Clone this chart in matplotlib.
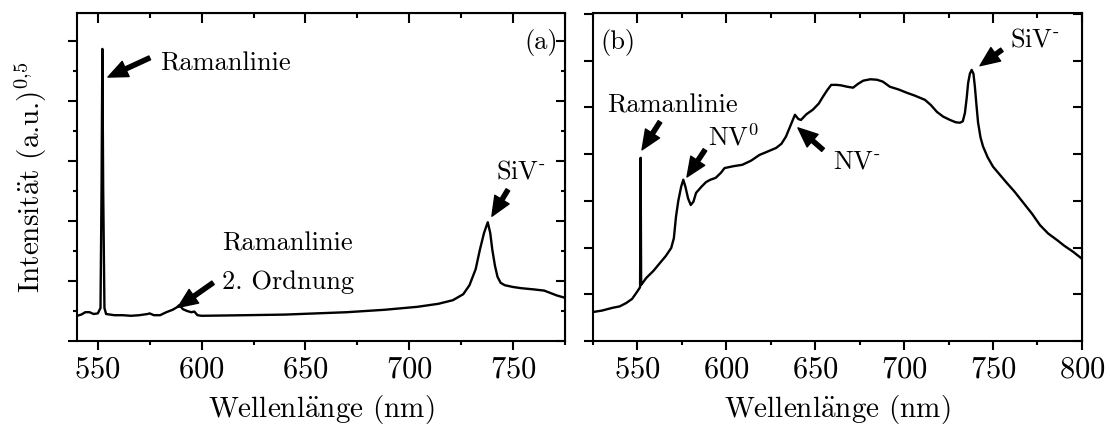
import matplotlib
matplotlib.use('Agg')
import matplotlib.pyplot as plt
from matplotlib.ticker import MultipleLocator

plt.rcParams['font.family'] = ['cmr10', 'DejaVu Serif']
plt.rcParams['mathtext.fontset'] = 'cm'
plt.rcParams['axes.formatter.use_mathtext'] = True

# (a) spectrum
wl_a = [540, 542, 544, 546, 548, 550, 551.3, 551.8, 552.2, 552.6, 553.2, 554,
        558, 562, 566, 570, 574, 575, 577, 580, 583, 586, 588, 589.3, 591,
        593, 595, 596.5, 598, 600, 621, 640, 655, 670, 688, 704, 714, 721,
        726, 729, 732, 734, 736, 737.8, 739, 740, 741.3, 742.5, 744, 746,
        750, 754, 760, 765, 768, 771, 775]
int_a = [0.42, 0.44, 0.48, 0.48, 0.45, 0.46, 0.55, 2.5, 4.87, 2.5, 0.55, 0.45,
         0.43, 0.43, 0.42, 0.43, 0.45, 0.46, 0.43, 0.43, 0.48, 0.52, 0.56, 0.6, 0.53,
         0.5, 0.48, 0.49, 0.43, 0.42, 0.43, 0.44, 0.46, 0.48, 0.52, 0.57, 0.62, 0.68,
         0.78, 0.93, 1.2, 1.52, 1.8, 1.98, 1.8, 1.52, 1.25, 1.07, 0.97, 0.93,
         0.9, 0.88, 0.86, 0.84, 0.8, 0.76, 0.72]

# (b) spectrum
wl_b = [525, 530, 536, 540, 543.6, 547, 549.4, 551.5, 551.8, 552.1, 552.5, 555,
        559, 562.7, 566, 569, 570.5, 571.7, 573, 574.6, 575.8, 577, 578.5, 580,
        581.5, 583, 586, 588.6, 591, 594, 597, 599, 604, 609, 614, 618.6, 623,
        628, 631, 633.5, 636, 638.6, 640.5, 642, 645, 648.7, 652, 654.4, 657, 659,
        662, 664.5, 668, 671.3, 674, 677, 681, 684.7, 688, 692, 697, 701.6, 706,
        711.7, 715, 718.5, 722, 725.8, 729, 731.4, 733, 734.2, 735.2, 736, 737,
        738, 739, 739.8, 740.8, 741.6, 743, 744.4, 747, 750, 754, 757.8, 762,
        767, 772, 776.4, 781, 786, 790, 795, 800]
int_b = [0.62, 0.65, 0.71, 0.74, 0.81, 0.9, 1.03, 1.15, 3.92, 1.2, 1.22, 1.35,
         1.5, 1.67, 1.82, 1.99, 2.2, 2.66, 3.0, 3.3, 3.45, 3.3, 3.05, 2.91,
         2.98, 3.17, 3.3, 3.4, 3.45, 3.49, 3.6, 3.7, 3.74, 3.77, 3.86, 3.98, 4.05,
         4.13, 4.22, 4.37, 4.6, 4.84, 4.75, 4.73, 4.85, 4.95, 5.08, 5.23, 5.38, 5.48,
         5.48, 5.47, 5.44, 5.42, 5.5, 5.57, 5.6, 5.59, 5.55, 5.44, 5.38, 5.31, 5.25,
         5.16, 5.05, 4.9, 4.8, 4.73, 4.68, 4.67, 4.7, 4.88, 5.2, 5.52, 5.72,
         5.8, 5.72, 5.44, 5.0, 4.67, 4.35, 4.16, 3.93, 3.73, 3.55, 3.38, 3.2,
         2.96, 2.72, 2.48, 2.3, 2.16, 2.04, 1.91, 1.76]

xlabel = r'Wellenl$\ddot{\mathrm{a}}$nge (nm)'
ylabel = r'Intensit$\ddot{\mathrm{a}}$t (a.u.)$^{0{,}5}$'
siv = r'SiV$^{\text{-}}$'
nv0 = r'NV$^0$'
nvm = r'NV$^{\text{-}}$'

lw = 1.7
fig = plt.figure(figsize=(11.1, 4.3), dpi=100)
ax1 = fig.add_axes([0.0694, 0.207, 0.4396, 0.763])
ax2 = fig.add_axes([0.5342, 0.207, 0.4405, 0.763])

ax1.plot(wl_a, int_a, color='black', lw=lw)
ax2.plot(wl_b, int_b, color='black', lw=lw)

ax1.set_xlim(540, 775)
ax1.set_ylim(0, 5.47)
ax2.set_xlim(525, 800)
ax2.set_ylim(0, 7.02)

def style(ax, yminor):
    for s in ax.spines.values():
        s.set_linewidth(1.5)
    ax.xaxis.set_major_locator(MultipleLocator(50))
    ax.xaxis.set_minor_locator(MultipleLocator(25))
    ax.yaxis.set_major_locator(MultipleLocator(1))
    if yminor:
        ax.yaxis.set_minor_locator(MultipleLocator(0.5))
    ax.tick_params(which='major', direction='out', length=6.5, width=1.5,
                   labelsize=22, top=False, right=False, labelleft=False, pad=4)
    ax.tick_params(which='minor', direction='out', length=3, width=1.5,
                   top=False, right=False)
    top = ax.secondary_xaxis('top')
    top.xaxis.set_major_locator(MultipleLocator(50))
    top.xaxis.set_minor_locator(MultipleLocator(25))
    top.tick_params(which='major', direction='in', length=7, width=1.5, labeltop=False)
    top.tick_params(which='minor', direction='in', length=3.5, width=1.5)
    right = ax.secondary_yaxis('right')
    right.yaxis.set_major_locator(MultipleLocator(1))
    if yminor:
        right.yaxis.set_minor_locator(MultipleLocator(0.5))
    right.tick_params(which='major', direction='in', length=6.5, width=1.5, labelright=False)
    right.tick_params(which='minor', direction='in', length=3, width=1.5)
    ax.set_xlabel(xlabel, fontsize=21, labelpad=7)

style(ax1, True)
style(ax2, False)
ax1.set_ylabel(ylabel, fontsize=21, labelpad=14)

arr = dict(facecolor='black', edgecolor='black', width=3, headwidth=12,
           headlength=14, shrink=0)
fs = 19

# panel (a)
ax1.text(771.5, 4.97, '(a)', fontsize=fs, ha='right', va='center')
ax1.annotate('', xy=(554.9, 4.4), xytext=(575, 4.72), arrowprops=arr)
ax1.text(580, 4.62, 'Ramanlinie', fontsize=fs, va='center')
ax1.annotate('', xy=(588.6, 0.56), xytext=(605.5, 0.97), arrowprops=arr)
ax1.text(609.8, 1.63, 'Ramanlinie', fontsize=fs, va='center')
ax1.text(609.8, 0.98, '2. Ordnung', fontsize=fs, va='center')
ax1.annotate('', xy=(739.8, 2.08), xytext=(747.5, 2.52), arrowprops=arr)
ax1.text(742, 2.82, siv, fontsize=fs, va='center')

# panel (b)
ax2.text(529, 6.38, '(b)', fontsize=fs, va='center')
ax2.text(533, 5.03, 'Ramanlinie', fontsize=fs, va='center')
ax2.annotate('', xy=(552.6, 4.09), xytext=(562.7, 4.69), arrowprops=arr)
ax2.text(589.7, 4.37, nv0, fontsize=fs, va='center')
ax2.annotate('', xy=(577.9, 3.51), xytext=(588, 4.09), arrowprops=arr)
ax2.text(660, 3.83, nvm, fontsize=fs, va='center')
ax2.annotate('', xy=(640.3, 4.56), xytext=(654.4, 4.09), arrowprops=arr)
ax2.text(759.5, 6.45, siv, fontsize=fs, va='center')
ax2.annotate('', xy=(742.7, 5.89), xytext=(755, 6.23), arrowprops=arr)

fig.savefig('out.png', dpi=100)
